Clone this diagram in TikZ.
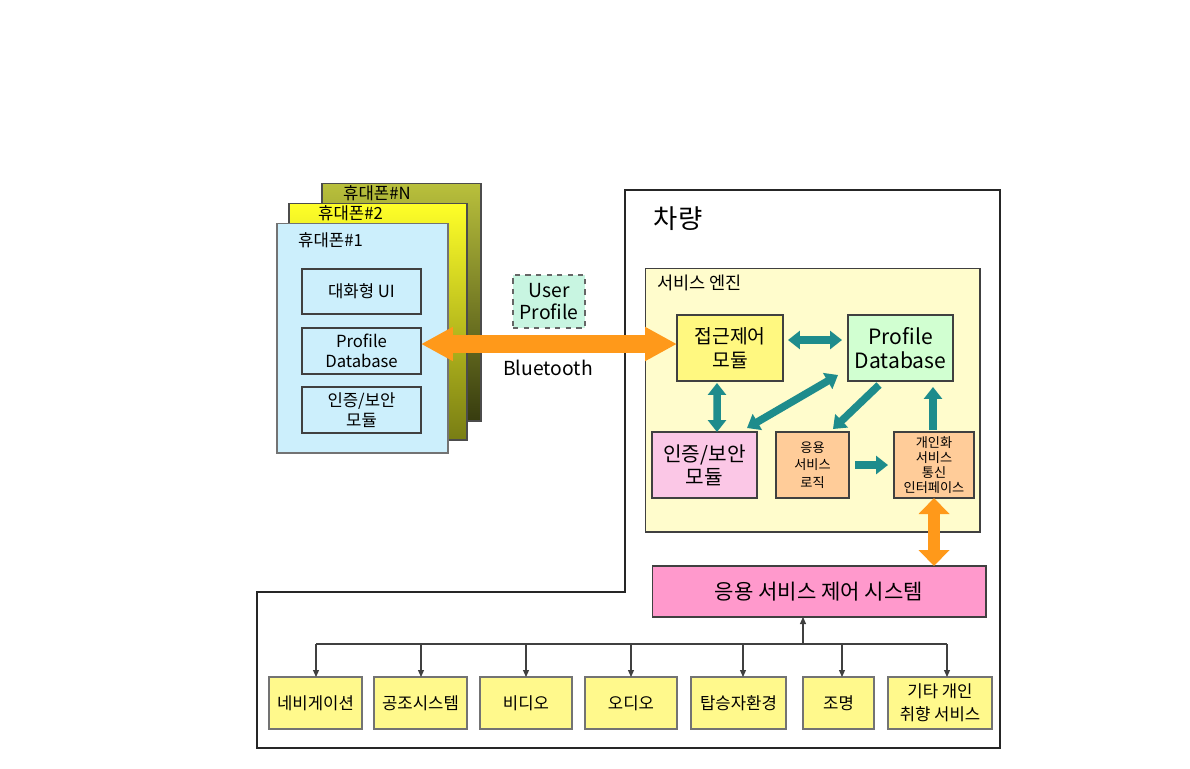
\documentclass[tikz,border=0pt]{standalone}
\usepackage{fontspec}
\setmainfont{Noto Sans CJK KR}
\usetikzlibrary{arrows.meta,calc}
\newcommand{\fsz}[2]{\fontsize{#1}{#2}\selectfont}
\definecolor{tealarrow}{RGB}{30,140,140}
\definecolor{orangearrow}{RGB}{255,153,26}

\begin{document}
\begin{tikzpicture}[x=0.02cm, y=-0.02cm,
  box/.style={draw=black!75, line width=0.6pt, inner sep=0pt, outer sep=0pt, align=center},
  phonebox/.style={box, draw=black!70, minimum width=#1},
  innerbox/.style={box, fill=cyan!20, minimum width=2.38cm, minimum height=0.92cm, font=\fsz{9.5}{11.3}},
  enginebox/.style={box, minimum height=1.32cm},
  leafbox/.style={box, draw=black!55, fill=yellow!45, minimum height=1.04cm, font=\fsz{9.5}{13}},
  bigarrow/.style={orangearrow, line width=#1},
  tealone/.style={tealarrow, line width=0.15cm, -{Triangle[length=0.24cm, width=0.36cm]}},
  tealtwo/.style={tealarrow, line width=0.15cm, {Triangle[length=0.24cm, width=0.36cm]}-{Triangle[length=0.24cm, width=0.36cm]}},
  treearrow/.style={black!75, line width=0.6pt, -{Triangle[length=0.14cm, width=0.12cm]}}
]
\useasboundingbox (0,0) rectangle (1190,768);

\node[phonebox=3.18cm, minimum height=4.76cm, top color={rgb,255:red,185;green,192;blue,60}, bottom color={rgb,255:red,55;green,60;blue,15}] (phoneN) at (401.5,302) {};
\node[phonebox=3.56cm, minimum height=4.74cm, top color={rgb,255:red,255;green,255;blue,40}, bottom color={rgb,255:red,120;green,125;blue,20}] (phone2) at (378,321.5) {};
\node[phonebox=3.42cm, minimum height=4.6cm, fill=cyan!20, draw=black!55] (phone1) at (362.5,338) {};
\node[anchor=west, font=\fsz{9.5}{11}] (labelN) at (337,193) {휴대폰\#N};
\node[anchor=west, font=\fsz{9.5}{11}] (label2) at (312,213) {휴대폰\#2};
\node[anchor=west, font=\fsz{9.5}{11}] (label1) at (292,240) {휴대폰\#1};
\node[innerbox, minimum height=0.9cm] (phoneUI) at (361.5,291.5) {대화형 UI};
\node[innerbox] (phoneDB) at (361.5,351) {Profile\\Database};
\node[innerbox] (phoneSec) at (361.5,410) {인증/보안\\모듈};

\node[box, dashed, draw=black!60, fill={rgb,255:red,200;green,245;blue,225}, minimum width=1.44cm, minimum height=1.06cm, font=\fsz{11}{13}] (userProfile) at (549,301.5) {User\\Profile};
\node[font=\fsz{11}{13}] (bt) at (548,368) {Bluetooth};

\draw[line width=0.9pt, black!85] (625,190) -- (1000,190) -- (1000,748) -- (257,748) -- (257,592) -- (625,592) -- cycle;
\node[font=\fsz{15}{18}] (car) at (678,219) {차량};

\node[box, fill=yellow!20, minimum width=6.7cm, minimum height=5.28cm] (engine) at (812.5,400) {};
\node[anchor=west, font=\fsz{10}{12}] (engineLabel) at (651,283) {서비스 엔진};
\node[enginebox, fill=yellow!50, minimum width=2.12cm, font=\fsz{11}{14}] (access) at (730,348) {접근제어\\모듈};
\node[enginebox, fill=green!18, minimum width=2.1cm, font=\fsz{12}{13.6}] (profileDB) at (900.5,348) {Profile\\Database};
\node[enginebox, fill=magenta!22, minimum width=2.1cm, font=\fsz{11.5}{13}] (authSec) at (704.5,465) {인증/보안\\모듈};
\node[enginebox, fill=orange!40, minimum width=1.46cm, font=\fsz{7.5}{10}] (logic) at (812.5,465) {응용\\서비스\\로직};
\node[enginebox, fill=orange!40, minimum width=1.6cm, font=\fsz{7.5}{8.7}] (iface) at (934,465) {개인화\\서비스\\통신\\인터페이스};

\node[box, fill={rgb,255:red,255;green,153;blue,204}, minimum width=6.68cm, minimum height=1.02cm, font=\fsz{12}{14}] (control) at (819,591.5) {응용 서비스 제어 시스템};

\node[leafbox, minimum width=1.86cm] (navi) at (315.5,703) {네비게이션};
\node[leafbox, minimum width=1.86cm] (hvac) at (420.5,703) {공조시스템};
\node[leafbox, minimum width=1.84cm] (video) at (526,703) {비디오};
\node[leafbox, minimum width=1.84cm] (audio) at (631,703) {오디오};
\node[leafbox, minimum width=1.9cm] (cabin) at (738.5,703) {탑승자환경};
\node[leafbox, minimum width=1.42cm] (light) at (838.5,703) {조명};
\node[leafbox, minimum width=2.08cm] (etc) at (940,703) {기타 개인\\취향 서비스};

\coordinate (btY) at (0,344);
\draw[bigarrow=0.36cm, {Triangle[length=0.64cm, width=0.64cm]}-{Triangle[length=0.64cm, width=0.64cm]}]
  (phoneDB.east |- btY) -- (access.west |- btY);
\draw[bigarrow=0.24cm, {Triangle[length=0.32cm, width=0.6cm]}-{Triangle[length=0.32cm, width=0.6cm]}]
  (iface.south) -- (iface.south |- control.north);

\draw[tealtwo] ($(access.east)+(5,-8)$) -- ($(profileDB.west)+(-6,-8)$);
\draw[tealtwo] ($(access.south)+(-13,2)$) -- ($(authSec.north)+(12.5,0)$);
\draw[tealtwo] ($(profileDB.south west)+(-10,-6)$) -- ($(authSec.north east)+(-10,-4)$);
\draw[tealone] ($(profileDB.south)+(-21.5,4)$) -- ($(logic.north east)+(-16,-3)$);
\draw[tealone] ($(logic.east)+(6,0)$) -- ($(iface.west)+(-6,0)$);
\draw[tealone] ($(iface.north)+(-1,-2)$) -- ($(iface.north |- profileDB.south)+(-1,6)$);

\coordinate (busL) at (316,644);
\coordinate (busR) at (947,644);
\coordinate (busUp) at (803,644);
\draw[black!75, line width=0.6pt] (busL) -- (busR);
\draw[treearrow] (busUp) -- (busUp |- control.south);
\foreach \bx/\leaf in {316/navi, 421/hvac, 526/video, 631/audio, 743/cabin, 842/light, 947/etc}
  \draw[treearrow] (\bx,644) -- (\bx,644 |- \leaf.north);
\end{tikzpicture}
\end{document}
